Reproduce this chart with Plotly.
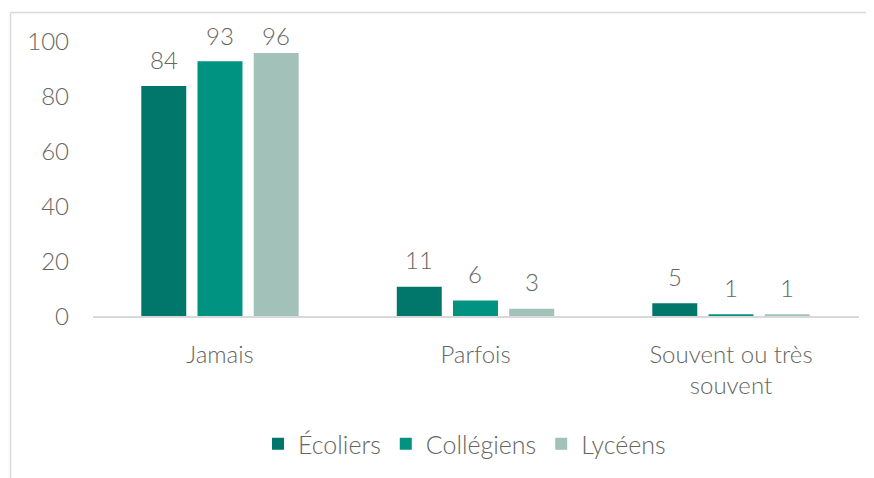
import plotly.graph_objects as go

categories = ["Jamais", "Parfois", "Souvent ou très<br>souvent"]
series_names = ["Écoliers", "Collégiens", "Lycéens"]
ecoliers = [84, 11, 5]
collegiens = [93, 6, 1]
lyceens = [96, 3, 1]
y_ticks = [0, 20, 40, 60, 80, 100]
colors = ["#00776A", "#009381", "#A1C1B9"]

FONT = "Lato"
TXT = "#66665f"
FS = 24

# page body has an 8px margin: figure coords = page coords - 8
W, H = 866, 470
L, R, T, B = 62, 15, 34, 160
pw = W - L - R
ph = H - T - B

def px(xp):
    return (xp - 8 - L) / pw

def py(yp):
    return (H - B - (yp - 8)) / ph

fig = go.Figure()
slot = 56.3
for i, (name, vals, col) in enumerate(zip(series_names, [ecoliers, collegiens, lyceens], colors)):
    fig.add_trace(go.Bar(
        x=categories, y=vals, name=name, marker=dict(color=col, line=dict(width=0)),
    ))
    for c, v in zip(categories, vals):
        # labels are kept inside the chart area near the top, as in the source
        ys = min(27, 282 - ph / 100 * v)
        fig.add_annotation(x=c, y=v, text=str(v), showarrow=False,
                           xshift=(i - 1) * slot, yshift=ys, yanchor="middle",
                           font=dict(family=FONT, size=FS, color=TXT, weight=300))

fig.update_layout(
    width=W, height=H,
    margin=dict(l=L, r=R, t=T, b=B),
    paper_bgcolor="white", plot_bgcolor="white",
    barmode="group", bargap=0.34, bargroupgap=0.2,
    showlegend=True,
    legend=dict(orientation="h", x=0.5, xanchor="center", y=py(444), yanchor="middle",
                font=dict(family=FONT, size=25, color=TXT, weight=300),
                itemwidth=30, traceorder="normal"),
    xaxis=dict(range=[-0.587, 2.501], showline=False, showgrid=False, zeroline=False,
               ticks="outside", ticklen=16, tickcolor="rgba(0,0,0,0)",
               tickfont=dict(family=FONT, size=FS, color=TXT, weight=300)),
    yaxis=dict(range=[0, 100], tickvals=y_ticks, showgrid=False, zeroline=False, showline=False,
               ticks="", tickfont=dict(family=FONT, size=FS, color=TXT, weight=300)),
    shapes=[
        dict(type="line", xref="paper", yref="paper", x0=px(93), x1=px(859), y0=0, y1=0,
             line=dict(color="#d9d9d9", width=2)),
        dict(type="line", xref="paper", yref="paper", x0=px(10.5), x1=px(900), y0=py(12.5), y1=py(12.5),
             line=dict(color="#d9d9d9", width=1.5)),
        dict(type="line", xref="paper", yref="paper", x0=px(10.5), x1=px(10.5), y0=py(12.5), y1=py(500),
             line=dict(color="#d9d9d9", width=1.5)),
    ],
)

fig.write_html("out.html")
